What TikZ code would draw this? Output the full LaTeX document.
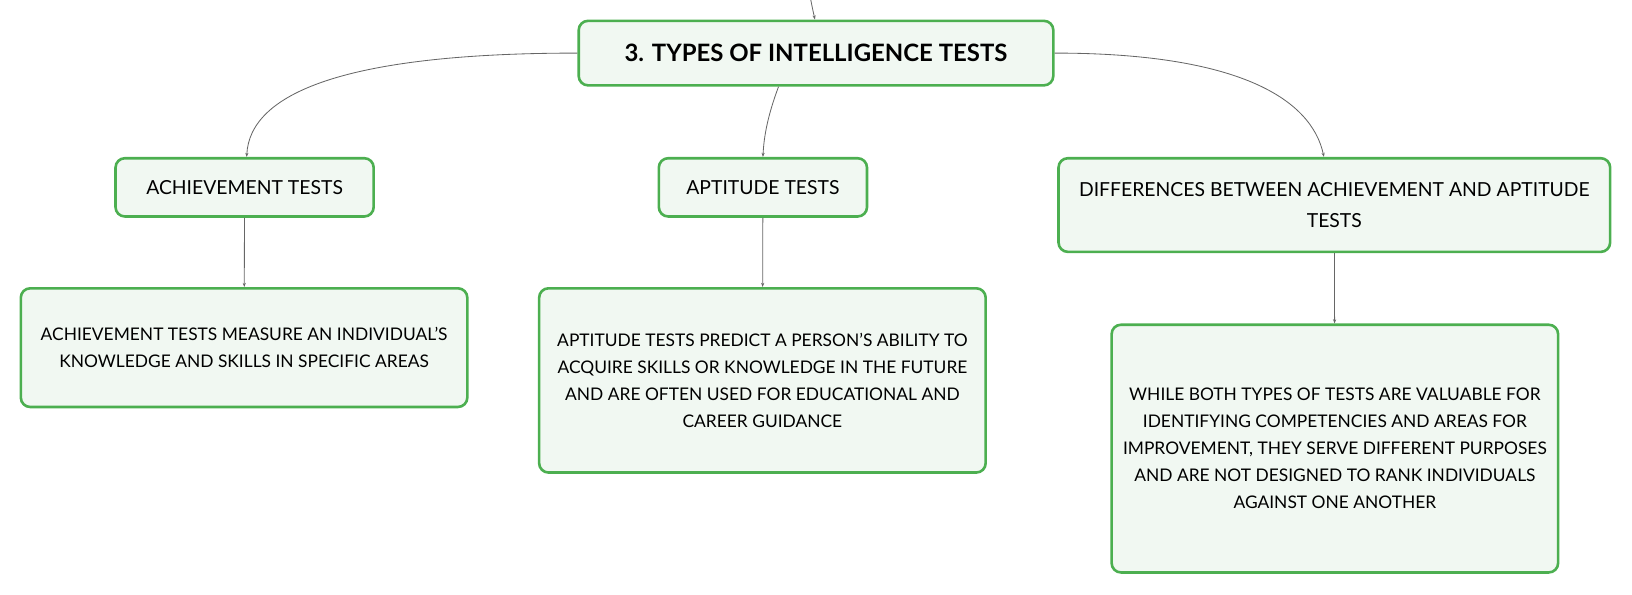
\documentclass[tikz,border=0pt]{standalone}
\usepackage{fontspec}
\setmainfont{Lato}
\usetikzlibrary{arrows.meta}
\definecolor{boxgreen}{HTML}{4CAF50}
\definecolor{boxfill}{HTML}{F1F8F2}
\definecolor{linkgray}{HTML}{666666}

\begin{document}
\begin{tikzpicture}[x=1pt,y=-1pt,
	topicbox/.style={draw=boxgreen, fill=boxfill, line width=2.5pt, rounded corners=9pt,
		align=center, inner sep=0pt, font=\fontsize{18.6}{30}\selectfont},
	notebox/.style={topicbox, minimum width=429, font=\fontsize{16.7}{26}\selectfont},
	link/.style={draw=linkgray, line width=0.8pt, -{Stealth[length=4pt,width=3pt]}}]
	
	% 固定画布大小
	\useasboundingbox (0,0) rectangle (1568,571);
	
	% 中心主题
	\node[topicbox, minimum width=456, minimum height=62, font=\fontsize{23}{28}\selectfont\bfseries]
		(types) at (784,51) {3. TYPES OF INTELLIGENCE TESTS};
	\coordinate (parent) at (779,0); % 上一级主题的连线起点
	
	% 第一层子主题
	\node[topicbox, minimum width=248, minimum height=56] (achieve) at (235,180) {ACHIEVEMENT TESTS};
	\node[topicbox, minimum width=200, minimum height=56] (aptitude) at (733,180) {APTITUDE TESTS};
	\node[topicbox, minimum width=530, minimum height=90] (differ) at (1282,197)
		{DIFFERENCES BETWEEN ACHIEVEMENT AND APTITUDE\\TESTS};
	
	% 第二层说明
	\node[notebox, minimum height=114] (achieveNote) at (234.5,334)
		{ACHIEVEMENT TESTS MEASURE AN INDIVIDUAL’S\\KNOWLEDGE AND SKILLS IN SPECIFIC AREAS};
	\node[notebox, minimum height=177] (aptitudeNote) at (732.5,365.5)
		{APTITUDE TESTS PREDICT A PERSON’S ABILITY TO\\ACQUIRE SKILLS OR KNOWLEDGE IN THE FUTURE\\AND ARE OFTEN USED FOR EDUCATIONAL AND\\CAREER GUIDANCE};
	\node[notebox, minimum height=238] (differNote) at (1282.5,431)
		{WHILE BOTH TYPES OF TESTS ARE VALUABLE FOR\\IDENTIFYING COMPETENCIES AND AREAS FOR\\IMPROVEMENT, THEY SERVE DIFFERENT PURPOSES\\AND ARE NOT DESIGNED TO RANK INDIVIDUALS\\AGAINST ONE ANOTHER};
	
	% 主题之间的连线
	\draw[link] (parent) .. controls (781,10) .. ([xshift=-1pt]types.north);
	\draw[link] (types.west) .. controls (330,51) and (240,90) .. ([xshift=2pt]achieve.north);
	\draw[link] ([xshift=-36pt]types.south) .. controls (738,110) and (734,130) .. (aptitude.north);
	\draw[link] (types.east) .. controls (1190,51) and (1260,95) .. ([xshift=-10pt]differ.north);
	
	% 子主题到说明的竖线
	\draw[link] (achieve) -- (achieveNote);
	\draw[link] (aptitude) -- (aptitudeNote);
	\draw[link] (differ) -- (differNote);
	
\end{tikzpicture}
\end{document}
